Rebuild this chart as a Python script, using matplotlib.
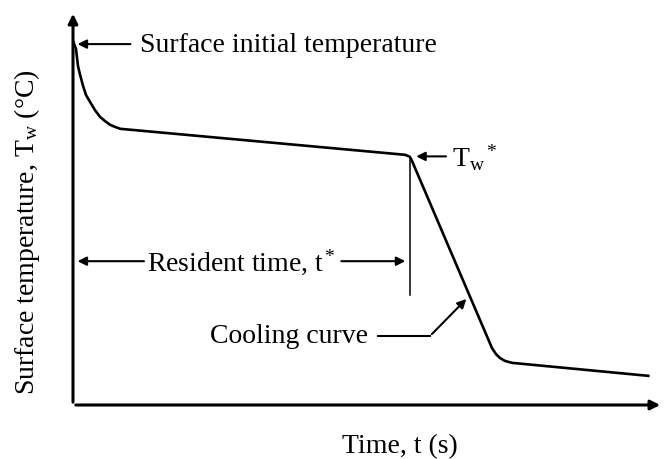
"""Schematic surface temperature history with resident time and cooling curve"""

import matplotlib
matplotlib.use('Agg')
import matplotlib.pyplot as plt

plt.rcParams['font.family'] = ['Liberation Serif', 'DejaVu Serif']
plt.rcParams['mathtext.fontset'] = 'custom'
plt.rcParams['mathtext.rm'] = 'Liberation Serif'
plt.rcParams['mathtext.it'] = 'Liberation Serif:italic'

# Curve (arbitrary units, 0-100 on both axes)
time = [0.0, 0.5, 0.85, 1.2, 1.7, 2.2, 2.9, 3.7, 4.6, 5.4, 6.3, 7.1, 8.0,
        56.3, 57.1, 57.5, 71.0, 71.7, 72.4, 73.2, 74.4, 97.5]
temp = [92.4, 90.4, 86.0, 83.8, 81.0, 78.7, 76.9, 74.9, 73.1, 72.1, 71.1, 70.6, 70.1,
        63.5, 63.0, 61.8, 14.5, 12.9, 11.9, 11.2, 10.7, 7.4]

t_star = 57.1
Tw_star = 62.9
fs = 20

fig = plt.figure(figsize=(6.65, 4.6), dpi=100)
ax = fig.add_axes([73 / 665, 54 / 460, 590 / 665, 394 / 460])
ax.set_xlim(0, 100)
ax.set_ylim(0, 100)
for s in ax.spines.values():
    s.set_visible(False)
ax.set_xticks([])
ax.set_yticks([])

# axes with arrow heads
ax.annotate('', xy=(0, 1), xytext=(0, 0), xycoords='axes fraction',
            arrowprops=dict(arrowstyle='-|>', lw=2.2, color='black', mutation_scale=14))
ax.annotate('', xy=(1, 0), xytext=(0, 0), xycoords='axes fraction',
            arrowprops=dict(arrowstyle='-|>', lw=2.2, color='black', mutation_scale=14))

ax.plot(time, temp, color='black', lw=1.9, solid_joinstyle='round')

# initial temperature
ax.annotate('', xy=(0.3, temp[0] - 0.8), xytext=(10.2, temp[0] - 0.8),
            arrowprops=dict(arrowstyle='-|>', lw=1.5, color='black', mutation_scale=13))
ax.text(11.3, temp[0] - 0.8, 'Surface initial temperature', fontsize=fs, va='center', ha='left')

# Tw*
ax.annotate('', xy=(t_star + 0.6, Tw_star + 0.2), xytext=(63.7, Tw_star + 0.2),
            arrowprops=dict(arrowstyle='-|>', lw=1.5, color='black', mutation_scale=13))
ax.text(64.2, Tw_star + 0.2, r'T$_\mathrm{w}$$^*$', fontsize=fs, va='center', ha='left')

# resident time
ax.plot([t_star, t_star], [Tw_star, 27.9], color='black', lw=1.1)
ax.annotate('', xy=(0.3, 36.5), xytext=(12.5, 36.5),
            arrowprops=dict(arrowstyle='-|>', lw=1.5, color='black', mutation_scale=13))
ax.annotate('', xy=(t_star - 0.3, 36.5), xytext=(45.0, 36.5),
            arrowprops=dict(arrowstyle='-|>', lw=1.5, color='black', mutation_scale=13))
ax.text(28.6, 36.5, r'Resident time, t$^*$', fontsize=fs, va='center', ha='center')

# cooling curve
ax.plot([51.7, 60.5], [17.5, 17.5], color='black', lw=1.5)
ax.annotate('', xy=(67.0, 27.4), xytext=(60.5, 17.5),
            arrowprops=dict(arrowstyle='-|>', lw=1.5, color='black', mutation_scale=13))
ax.text(50.0, 17.6, 'Cooling curve', fontsize=fs, va='center', ha='right')

fig.text(400 / 665, 1 - 447 / 460, 'Time, t (s)', fontsize=fs, ha='center', va='center')
fig.text(27 / 665, 1 - 232 / 460, r'Surface temperature, T$_\mathrm{w}$ (°C)', fontsize=fs,
         ha='center', va='center', rotation=90)

fig.savefig('out.png', dpi=100)
